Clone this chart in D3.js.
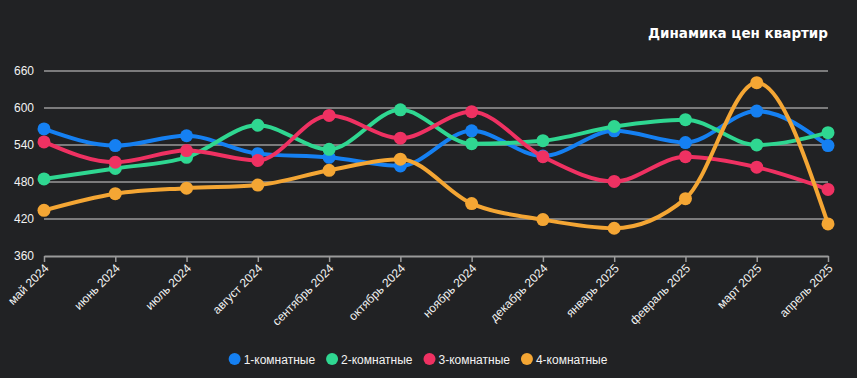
<!DOCTYPE html>
<html><head><meta charset="utf-8">
<script src="https://cdn.jsdelivr.net/npm/d3@7"></script>
<style>
html,body{margin:0;padding:0;background:#212224;}
svg{display:block;}
</style></head>
<body>
<svg id="c" width="857" height="378"></svg>
<script>
const months = ["май 2024","июнь 2024","июль 2024","август 2024","сентябрь 2024","октябрь 2024","ноябрь 2024","декабрь 2024","январь 2025","февраль 2025","март 2025","апрель 2025"];
const seriesNames = ["1-комнатные","2-комнатные","3-комнатные","4-комнатные"];
const seriesColors = ["#1580f2","#2fd791","#ef3162","#f4a634"];
const room1 = [566,539,555,526,520,506,563,522,563,544,595,539];
const room2 = [485,502,520,572,533,597,542,547,570,581,540,560];
const room3 = [545,512,531,515,588,551,594,521,481,521,504,468];
const room4 = [434,461,470,475,499,517,445,419,405,453,641,412];
const yTicks = [360,420,480,540,600,660];
const title = "Динамика цен квартир";

(function(){
const series = [room1,room2,room3,room4];
const svg = d3.select("#c");
const W = 857, H = 378;
const pL = 44, pR = 828, pT = 71, pB = 256;

svg.append("rect").attr("width",W).attr("height",H).attr("fill","#212224");

const x = d3.scalePoint().domain(months).range([pL,pR]);
const y = d3.scaleLinear().domain([360,660]).range([pB,pT]);

// grid
svg.append("g").selectAll("line").data(yTicks.filter(d=>d>360)).join("line")
  .attr("x1",pL).attr("x2",pR).attr("y1",d=>y(d)).attr("y2",d=>y(d))
  .attr("stroke","#9a9a9a").attr("stroke-width",1.5);

// y labels
svg.append("g").selectAll("text").data(yTicks).join("text")
  .attr("x",34).attr("y",d=>y(d)+4).attr("text-anchor","end")
  .attr("fill","#f2f2f2").attr("font-family","Liberation Sans, Arial, sans-serif").attr("font-size",12)
  .text(d=>d);

// x axis
const xa = svg.append("g").attr("transform",`translate(0,${pB})`)
  .call(d3.axisBottom(x).tickSize(6).tickSizeOuter(0));
xa.select(".domain").attr("stroke","#9a9a9a").attr("stroke-width",2);
xa.selectAll(".tick line").attr("stroke","#9a9a9a").attr("stroke-width",1.5);
xa.selectAll(".tick text")
  .attr("fill","#f2f2f2").attr("font-family","Liberation Sans, Arial, sans-serif").attr("font-size",12)
  .attr("text-anchor","end").attr("dy",0).attr("y",0)
  .attr("transform","translate(5,13) rotate(-45)");

// lines
const line = d3.line().x((d,i)=>x(months[i])).y(d=>y(d)).curve(d3.curveMonotoneX);
series.forEach((s,k)=>{
  const g = svg.append("g");
  g.append("path").attr("d",line(s)).attr("fill","none")
    .attr("stroke",seriesColors[k]).attr("stroke-width",4).attr("stroke-linecap","round");
  g.selectAll("circle").data(s).join("circle")
    .attr("cx",(d,i)=>x(months[i])).attr("cy",d=>y(d)).attr("r",6.5)
    .attr("fill",seriesColors[k]);
});

// title
svg.append("text").attr("x",828).attr("y",38).attr("text-anchor","end")
  .attr("fill","#ffffff").attr("font-family","DejaVu Sans, Verdana, sans-serif")
  .attr("font-weight","bold").attr("font-size",13.5).text(title);

// legend
const lg = svg.append("g");
let cx = 0;
seriesNames.forEach((n,k)=>{
  const it = lg.append("g");
  it.append("circle").attr("cx",6).attr("cy",0).attr("r",6).attr("fill",seriesColors[k]);
  const t = it.append("text").attr("x",15).attr("y",4.5).attr("fill","#f2f2f2")
    .attr("font-family","Liberation Sans, Arial, sans-serif").attr("font-size",12).text(n);
  const w = 15 + t.node().getComputedTextLength();
  it.attr("transform",`translate(${cx},359)`);
  cx += w + 11;
});
const totalW = cx - 11;
lg.attr("transform",`translate(${(230+606)/2 - totalW/2},0)`);
})();
</script>
</body></html>
